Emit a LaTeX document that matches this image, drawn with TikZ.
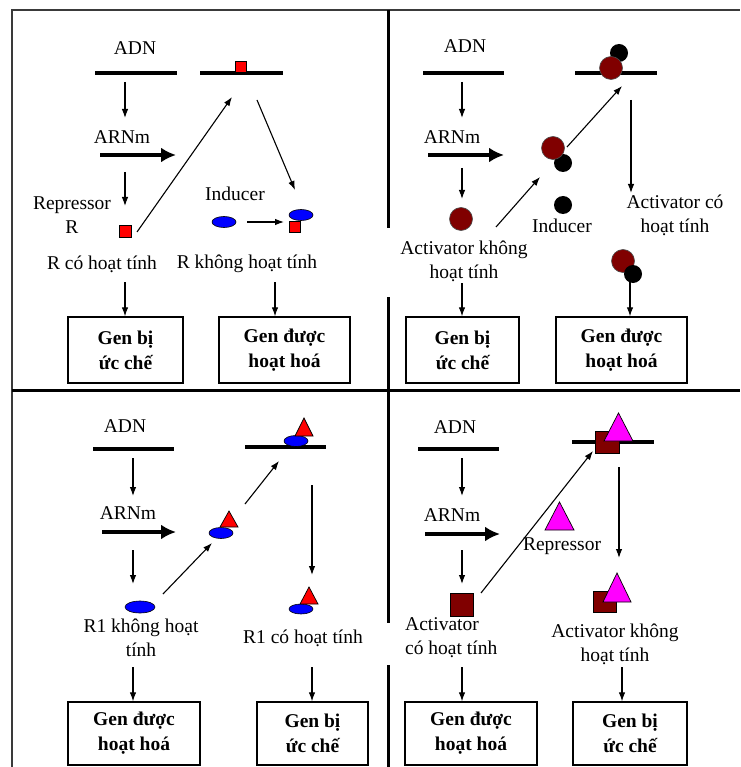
\documentclass[tikz,border=0pt]{standalone}
\usepackage{fontspec}
\setmainfont{Liberation Serif}
\usetikzlibrary{arrows.meta,shapes.geometric}
\definecolor{maroon}{HTML}{800000}
\definecolor{pinkmag}{HTML}{FF00FF}
\definecolor{framegray}{HTML}{3A3A3A}
\begin{document}
\begin{tikzpicture}[x=1pt,y=-1pt,
  lbl/.style={font=\fontsize{19.5}{24}\selectfont, inner sep=0pt, align=center},
  genbox/.style={draw, line width=1.3pt, minimum width=#1, minimum height=66pt,
    font=\bfseries\fontsize{19.5}{25}\selectfont, align=center, inner sep=0pt},
  dna/.style={line width=4pt},
  thinarrow/.style={-{Latex[length=9pt,width=6.5pt]}, line width=1.1pt},
  fatarrow/.style={-{Latex[length=15pt,width=15pt]}, line width=4.5pt},
  redsq/.style={rectangle, draw, fill=red, minimum size=11pt, inner sep=0pt, line width=0.8pt},
  marsq/.style={rectangle, draw, fill=maroon, minimum width=23pt, minimum height=22pt, inner sep=0pt, line width=0.8pt},
  blueov/.style={ellipse, draw, fill=blue, minimum width=24pt, minimum height=11pt, inner sep=0pt, line width=0.6pt},
  bigov/.style={blueov, minimum width=30pt, minimum height=12pt},
  ball/.style={circle, draw=black!70, fill=maroon, minimum size=23pt, inner sep=0pt, line width=0.6pt},
  inducer/.style={circle, fill=black, minimum size=18pt, inner sep=0pt},
  tri/.style={draw, line width=0.7pt, line join=miter},
]
\useasboundingbox (0,0) rectangle (740,767);
\fill[white] (0,0) rectangle (740,767);

% ---------- frame and quadrant dividers ----------
\draw[framegray, line width=2pt] (12,767) -- (12,10) -- (740,10);
\draw[line width=3pt] (12,390) -- (740,390);
\draw[line width=3pt] (388,10) -- (388,228);
\draw[line width=3pt] (388,297) -- (388,623);
\draw[line width=3pt] (388,665) -- (388,767);

% ================= top left: repressor / inducer =================
\node[lbl] (q1adn) at (135,48) {ADN};
\draw[dna] (95,73) -- (177,73);
\draw[dna] (200,73) -- (283,73);
\node[redsq] (q1rdna) at (241,66.5) {};
\coordinate (q1a1s) at (125,82); \coordinate (q1a1e) at (125,118);
\draw[thinarrow] (q1a1s) -- (q1a1e);
\node[lbl] (q1arn) at (122,137) {ARNm};
\coordinate (q1ts) at (100,155); \coordinate (q1te) at (176,155);
\draw[fatarrow] (q1ts) -- (q1te);
\coordinate (q1a2s) at (125,172); \coordinate (q1a2e) at (125,206);
\draw[thinarrow] (q1a2s) -- (q1a2e);
\node[lbl] (q1rep) at (72,215) {Repressor\\R};
\node[redsq, minimum size=12pt] (q1r) at (125,231) {};
\coordinate (q1ds) at (137,232); \coordinate (q1de) at (232,97);
\draw[thinarrow] (q1ds) -- (q1de);
\coordinate (q1es) at (257,100); \coordinate (q1ee) at (295,190);
\draw[thinarrow] (q1es) -- (q1ee);
\node[lbl] (q1ind) at (235,194) {Inducer};
\node[blueov] (q1i) at (224,222) {};
\coordinate (q1fs) at (247,222); \coordinate (q1fe) at (284,222);
\draw[thinarrow] (q1fs) -- (q1fe);
\node[blueov] (q1ci) at (301,215) {};
\node[redsq] (q1cr) at (295,226.5) {};
\node[lbl] (q1act) at (102,264) {R có hoạt tính};
\node[lbl] (q1inact) at (247,264) {R không hoạt tính};
\node[genbox=115pt] (q1b1) at (125.5,350) {Gen bị\\ức chế};
\node[genbox=131pt] (q1b2) at (284.5,350) {Gen được\\hoạt hoá};
\coordinate (q1gs) at (125,282); \coordinate (q1hs) at (275,282);
\draw[thinarrow] (q1gs) -- (q1gs |- q1b1.north);
\draw[thinarrow] (q1hs) -- (q1hs |- q1b2.north);

% ================= top right: activator / inducer =================
\node[lbl] (q2adn) at (465,46) {ADN};
\draw[dna] (423,73) -- (504,73);
\draw[dna] (575,73) -- (657,73);
\node[inducer] (q2ki) at (619,53) {};
\node[ball] (q2kb) at (611,68) {};
\coordinate (q2a1s) at (462,82); \coordinate (q2a1e) at (462,118);
\draw[thinarrow] (q2a1s) -- (q2a1e);
\node[lbl] (q2arn) at (452,137) {ARNm};
\coordinate (q2ts) at (428,155); \coordinate (q2te) at (504,155);
\draw[fatarrow] (q2ts) -- (q2te);
\node[inducer] (q2mi) at (563,163) {};
\node[ball] (q2mb) at (553,148) {};
\coordinate (q2ds) at (567,147); \coordinate (q2de) at (622,86);
\draw[thinarrow] (q2ds) -- (q2de);
\coordinate (q2a2s) at (462,168); \coordinate (q2a2e) at (462,199);
\draw[thinarrow] (q2a2s) -- (q2a2e);
\node[ball] (q2b) at (461,219) {};
\coordinate (q2es) at (496,227); \coordinate (q2ee) at (540,177);
\draw[thinarrow] (q2es) -- (q2ee);
\node[inducer] (q2i) at (563,205) {};
\node[lbl] (q2ind) at (562,226) {Inducer};
\coordinate (q2fs) at (631,100); \coordinate (q2fe) at (631,193);
\draw[thinarrow] (q2fs) -- (q2fe);
\node[lbl] (q2act) at (675,215) {Activator có\\hoạt tính};
\node[lbl] (q2inact) at (464,261) {Activator không\\hoạt tính};
\node[ball] (q2cb) at (623,261) {};
\node[inducer] (q2ci) at (633,274) {};
\node[genbox=113pt] (q2b3) at (462.5,350) {Gen bị\\ức chế};
\node[genbox=131pt] (q2b4) at (621.5,350) {Gen được\\hoạt hoá};
\coordinate (q2gs) at (462,283); \coordinate (q2hs) at (630,282);
\draw[thinarrow] (q2gs) -- (q2gs |- q2b3.north);
\draw[thinarrow] (q2hs) -- (q2hs |- q2b4.north);

% ================= bottom left: R1 with corepressor =================
\node[lbl] (q3adn) at (125,426) {ADN};
\draw[dna] (93,449) -- (174,449);
\draw[dna] (245,447) -- (326,447);
\node[blueov] (q3ko) at (296,441) {};
\coordinate (q3kt) at (304,427);
\filldraw[tri, fill=red] ([shift={(-9,9)}]q3kt) -- ([shift={(0,-9)}]q3kt) -- ([shift={(9,9)}]q3kt) -- cycle;
\coordinate (q3a1s) at (133,458); \coordinate (q3a1e) at (133,496);
\draw[thinarrow] (q3a1s) -- (q3a1e);
\node[lbl] (q3arn) at (128,513) {ARNm};
\coordinate (q3ts) at (102,532); \coordinate (q3te) at (176,532);
\draw[fatarrow] (q3ts) -- (q3te);
\node[blueov] (q3mo) at (221,533) {};
\coordinate (q3mt) at (229,519);
\filldraw[tri, fill=red] ([shift={(-9,8)}]q3mt) -- ([shift={(0,-8)}]q3mt) -- ([shift={(9,8)}]q3mt) -- cycle;
\coordinate (q3ds) at (245,504); \coordinate (q3de) at (279,461);
\draw[thinarrow] (q3ds) -- (q3de);
\coordinate (q3es) at (312,485); \coordinate (q3ee) at (312,575);
\draw[thinarrow] (q3es) -- (q3ee);
\coordinate (q3a2s) at (133,550); \coordinate (q3a2e) at (133,584);
\draw[thinarrow] (q3a2s) -- (q3a2e);
\coordinate (q3fs) at (163,594); \coordinate (q3fe) at (212,543);
\draw[thinarrow] (q3fs) -- (q3fe);
\node[bigov] (q3o) at (140,607) {};
\node[blueov, minimum height=10pt] (q3co) at (301,609) {};
\coordinate (q3ct) at (309,595.5);
\filldraw[tri, fill=red] ([shift={(-9,8.5)}]q3ct) -- ([shift={(0,-8.5)}]q3ct) -- ([shift={(9,8.5)}]q3ct) -- cycle;
\node[lbl] (q3inact) at (141,637.5) {R1 không hoạt\\tính};
\node[lbl] (q3act) at (303,638) {R1 có hoạt tính};
\node[genbox=132pt, minimum height=63pt] (q3b5) at (134,733.5) {Gen được\\hoạt hoá};
\node[genbox=111pt, minimum height=63pt] (q3b6) at (312.5,733.5) {Gen bị\\ức chế};
\coordinate (q3gs) at (133,667); \coordinate (q3hs) at (312,667);
\draw[thinarrow] (q3gs) -- (q3gs |- q3b5.north);
\draw[thinarrow] (q3hs) -- (q3hs |- q3b6.north);

% ================= bottom right: activator with repressor =================
\node[lbl] (q4adn) at (455,427) {ADN};
\draw[dna] (418,449) -- (499,449);
\draw[dna] (572,442) -- (654,442);
\node[marsq, minimum width=24pt] (q4ks) at (607,442) {};
\coordinate (q4kt) at (618.5,427);
\filldraw[tri, fill=pinkmag] ([shift={(-14.5,14)}]q4kt) -- ([shift={(0,-14)}]q4kt) -- ([shift={(14.5,14)}]q4kt) -- cycle;
\coordinate (q4a1s) at (462,458); \coordinate (q4a1e) at (462,496);
\draw[thinarrow] (q4a1s) -- (q4a1e);
\node[lbl] (q4arn) at (452,515) {ARNm};
\coordinate (q4ts) at (425,534); \coordinate (q4te) at (500,534);
\draw[fatarrow] (q4ts) -- (q4te);
\coordinate (q4rt) at (559.5,516);
\filldraw[tri, fill=pinkmag] ([shift={(-14.5,14)}]q4rt) -- ([shift={(0,-14)}]q4rt) -- ([shift={(14.5,14)}]q4rt) -- cycle;
\node[lbl] (q4rep) at (562,546) {Repressor};
\coordinate (q4es) at (619,467); \coordinate (q4ee) at (619,558);
\draw[thinarrow] (q4es) -- (q4ee);
\coordinate (q4ds) at (481,593); \coordinate (q4de) at (593,451);
\draw[thinarrow] (q4ds) -- (q4de);
\coordinate (q4a2s) at (462,550); \coordinate (q4a2e) at (462,584);
\draw[thinarrow] (q4a2s) -- (q4a2e);
\node[marsq, minimum height=23pt] (q4s) at (461.5,604.5) {};
\node[marsq, minimum height=21pt] (q4cs) at (604.5,601.5) {};
\coordinate (q4ct) at (617,587.5);
\filldraw[tri, fill=pinkmag] ([shift={(-14,14.5)}]q4ct) -- ([shift={(0,-14.5)}]q4ct) -- ([shift={(14,14.5)}]q4ct) -- cycle;
\node[lbl, anchor=west, align=left] (q4act) at (405,637.5) {Activator\\có hoạt tính};
\node[lbl] (q4inact) at (615,644) {Activator không\\hoạt tính};
\node[genbox=132pt, minimum height=63pt] (q4b7) at (471,733.5) {Gen được\\hoạt hoá};
\node[genbox=114pt, minimum height=63pt] (q4b8) at (630,733.5) {Gen bị\\ức chế};
\coordinate (q4gs) at (462,667); \coordinate (q4hs) at (622,667);
\draw[thinarrow] (q4gs) -- (q4gs |- q4b7.north);
\draw[thinarrow] (q4hs) -- (q4hs |- q4b8.north);
\end{tikzpicture}
\end{document}
